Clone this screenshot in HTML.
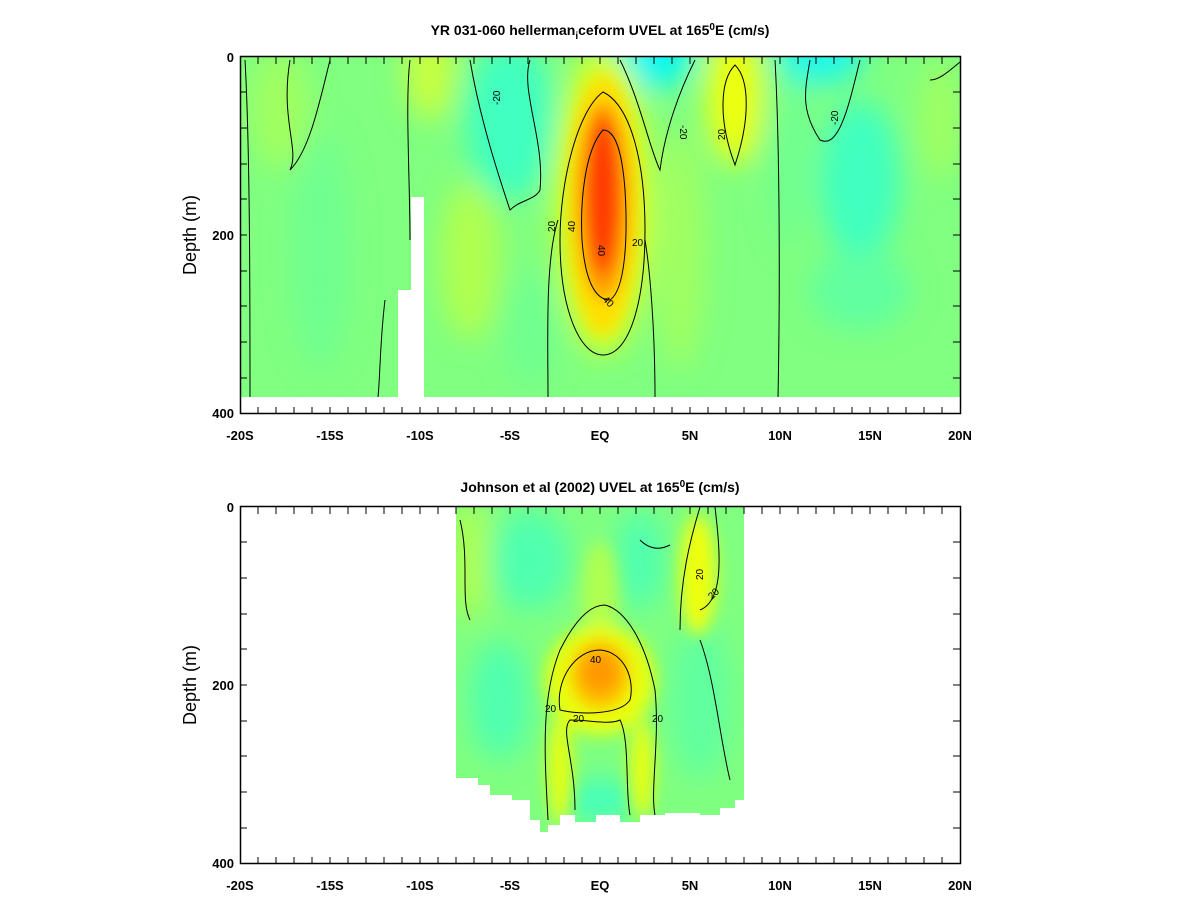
<!DOCTYPE html>
<html><head><meta charset="utf-8"><style>
body{margin:0;background:#fff;}
svg{display:block;font-family:"Liberation Sans",sans-serif;font-weight:bold;}
</style></head><body>
<svg width="1200" height="900" viewBox="0 0 1200 900" xmlns="http://www.w3.org/2000/svg">
<defs>
<filter id="b1" x="-50%" y="-50%" width="200%" height="200%"><feGaussianBlur stdDeviation="14"/></filter>
<filter id="b2" x="-50%" y="-50%" width="200%" height="200%"><feGaussianBlur stdDeviation="8"/></filter>
<clipPath id="c1"><path d="M240,57H960V397H424V240H424V197H411V290H398V397H240Z"/></clipPath>
<clipPath id="c0"><rect x="240" y="57" width="720" height="340"/></clipPath>
<clipPath id="c2"><path d="M456,507H744V800H735V808H720V815H700V813H665V815H640V822H620V815H596V822H575V815H560V825H548V832H540V820H530V800H512V795H490V785H478V778H456Z"/></clipPath>
</defs>

<g clip-path="url(#c1)">
<rect x="240" y="57" width="720" height="340" fill="#80ff80"/>
<g filter="url(#b1)">
<ellipse cx="280" cy="110" rx="30" ry="60" fill="#a0ff60"/>
<ellipse cx="320" cy="250" rx="30" ry="120" fill="#70ff90"/>
<ellipse cx="430" cy="70" rx="25" ry="50" fill="#c8ff40"/>
<ellipse cx="470" cy="260" rx="30" ry="80" fill="#b0ff50"/>
<ellipse cx="510" cy="120" rx="45" ry="80" fill="#40ffc0"/>
<ellipse cx="530" cy="330" rx="25" ry="60" fill="#70ff90"/>
<ellipse cx="650" cy="50" rx="45" ry="40" fill="#10f8f0"/>
<ellipse cx="680" cy="250" rx="25" ry="120" fill="#a0ff60"/>
<ellipse cx="735" cy="95" rx="28" ry="70" fill="#f0ff10"/>
<ellipse cx="790" cy="150" rx="20" ry="100" fill="#70ff90"/>
<ellipse cx="820" cy="50" rx="45" ry="35" fill="#20f8e8"/>
<ellipse cx="860" cy="180" rx="40" ry="80" fill="#40ffc0"/>
<ellipse cx="860" cy="290" rx="50" ry="40" fill="#60ffa0"/>
<ellipse cx="940" cy="120" rx="20" ry="60" fill="#a0ff60"/>
<ellipse cx="603" cy="200" rx="48" ry="155" fill="#d8ff20"/>
</g>
<g filter="url(#b2)">
<ellipse cx="603" cy="205" rx="36" ry="130" fill="#ffe000"/>
<ellipse cx="603" cy="200" rx="26" ry="100" fill="#ff9a00"/>
<ellipse cx="603" cy="195" rx="17" ry="80" fill="#ff3a00"/>
</g>
</g>
<rect x="240" y="397" width="720" height="17" fill="#fff"/>
<g fill="none" stroke="#000" stroke-width="1" clip-path="url(#c0)">
<path d="M603,92 C578,110 560,180 560,240 C560,310 580,355 603,355 C630,355 645,300 645,230 C645,160 630,105 603,92Z"/>
<path d="M603,130 C585,150 580,200 582,240 C585,280 595,300 610,300 C625,290 628,240 625,190 C622,150 615,130 603,130Z"/>
<path d="M548,397 C548,340 545,260 558,220"/>
<path d="M655,397 C655,330 650,270 645,240"/>
<path d="M245,60 C250,150 250,300 250,397"/>
<path d="M290,60 C280,120 300,150 290,170 C310,150 320,100 330,60"/>
<path d="M410,60 C405,100 410,180 410,240"/>
<path d="M385,300 C380,340 380,380 378,397"/>
<path d="M470,60 C480,120 500,180 510,210 C520,200 535,200 540,190 C545,140 520,90 530,60"/>
<path d="M620,60 C640,100 650,150 660,170 C665,130 680,90 695,60"/>
<path d="M735,65 C720,80 718,120 735,165 C750,120 750,80 735,65Z"/>
<path d="M775,60 C780,150 780,300 778,397"/>
<path d="M810,60 C805,90 800,110 820,140 C840,150 850,100 860,60"/>
<path d="M930,80 C940,80 950,70 960,62"/>
</g>
<g font-size="10" font-weight="normal" fill="#000">
<text x="598" y="245" transform="rotate(90 598 245)">40</text>
<text x="632" y="246">20</text>
<text x="555" y="232" transform="rotate(-90 555 232)">20</text>
<text x="575" y="232" transform="rotate(-90 575 232)">40</text>
<text x="602" y="300" transform="rotate(45 602 300)">40</text>
<text x="725" y="140" transform="rotate(-90 725 140)">20</text>
<text x="838" y="125" transform="rotate(-90 838 125)">-20</text>
<text x="500" y="105" transform="rotate(-90 500 105)">-20</text>
<text x="680" y="125" transform="rotate(90 680 125)">-20</text>
</g>
<rect x="240.5" y="56.5" width="720" height="357" fill="none" stroke="#000" stroke-width="1.5"/>
<g stroke="#000" stroke-width="1">
<path d="M258,414v-7M276,414v-7M294,414v-7M312,414v-7M330,414v-7M348,414v-7M366,414v-7M384,414v-7M402,414v-7M420,414v-7M438,414v-7M456,414v-7M474,414v-7M492,414v-7M510,414v-7M528,414v-7M546,414v-7M564,414v-7M582,414v-7M600,414v-7M618,414v-7M636,414v-7M654,414v-7M672,414v-7M690,414v-7M708,414v-7M726,414v-7M744,414v-7M762,414v-7M780,414v-7M798,414v-7M816,414v-7M834,414v-7M852,414v-7M870,414v-7M888,414v-7M906,414v-7M924,414v-7M942,414v-7"/>
<path d="M258,57v7M276,57v7M294,57v7M312,57v7M330,57v7M348,57v7M366,57v7M384,57v7M402,57v7M420,57v7M438,57v7M456,57v7M474,57v7M492,57v7M510,57v7M528,57v7M546,57v7M564,57v7M582,57v7M600,57v7M618,57v7M636,57v7M654,57v7M672,57v7M690,57v7M708,57v7M726,57v7M744,57v7M762,57v7M780,57v7M798,57v7M816,57v7M834,57v7M852,57v7M870,57v7M888,57v7M906,57v7M924,57v7M942,57v7"/>
<path d="M240,92h7M240,128h7M240,164h7M240,199h7M240,235h7M240,271h7M240,306h7M240,342h7M240,378h7M960,92h-7M960,128h-7M960,164h-7M960,199h-7M960,235h-7M960,271h-7M960,306h-7M960,342h-7M960,378h-7"/>
</g>
<g font-size="13" fill="#000">
<text x="600" y="35" text-anchor="middle" font-size="14">YR 031-060 hellerman<tspan font-size="10" dy="4">i</tspan><tspan dy="-4">ceform UVEL at 165</tspan><tspan font-size="10" dy="-5">0</tspan><tspan dy="5">E (cm/s)</tspan></text>
<text x="234" y="62" text-anchor="end">0</text>
<text x="234" y="240" text-anchor="end">200</text>
<text x="234" y="418" text-anchor="end">400</text>
<text x="240" y="440" text-anchor="middle">-20S</text><text x="330" y="440" text-anchor="middle">-15S</text><text x="420" y="440" text-anchor="middle">-10S</text><text x="510" y="440" text-anchor="middle">-5S</text><text x="600" y="440" text-anchor="middle">EQ</text><text x="690" y="440" text-anchor="middle">5N</text><text x="780" y="440" text-anchor="middle">10N</text><text x="870" y="440" text-anchor="middle">15N</text><text x="960" y="440" text-anchor="middle">20N</text>
<text x="196" y="235" text-anchor="middle" font-size="18" font-weight="normal" transform="rotate(-90 196 235)">Depth (m)</text>
</g>

<g clip-path="url(#c2)">
<rect x="456" y="507" width="288" height="330" fill="#80ff80"/>
<g filter="url(#b1)">
<ellipse cx="470" cy="560" rx="20" ry="60" fill="#b0ff50"/>
<ellipse cx="530" cy="560" rx="40" ry="50" fill="#50ffb0"/>
<ellipse cx="500" cy="700" rx="30" ry="60" fill="#50ffb0"/>
<ellipse cx="700" cy="700" rx="30" ry="80" fill="#60ffa0"/>
<ellipse cx="640" cy="560" rx="25" ry="50" fill="#50ffb0"/>
<ellipse cx="600" cy="800" rx="40" ry="20" fill="#40ffc0"/>
</g>
<g filter="url(#b2)">
<ellipse cx="600" cy="600" rx="18" ry="60" fill="#b0ff50"/>
<ellipse cx="698" cy="575" rx="18" ry="60" fill="#f0ff10"/>
<ellipse cx="600" cy="680" rx="55" ry="55" fill="#e8ff10"/>
<ellipse cx="560" cy="770" rx="12" ry="55" fill="#e8ff10"/>
<ellipse cx="642" cy="770" rx="12" ry="50" fill="#e8ff10"/>
<ellipse cx="600" cy="675" rx="30" ry="35" fill="#ffc000"/>
<ellipse cx="600" cy="672" rx="20" ry="22" fill="#ff9800"/>
</g>
</g>
<g fill="none" stroke="#000" stroke-width="1">
<path d="M548,820 C545,760 540,700 560,650 C575,620 590,605 605,605 C625,610 645,640 655,690 C660,740 650,790 655,815"/>
<path d="M560,710 C555,680 575,650 600,650 C625,652 635,680 630,700 C620,715 580,715 560,710Z"/>
<path d="M575,810 C575,760 560,730 570,720 C590,720 610,725 620,720 C630,740 625,790 630,815"/>
<path d="M680,630 C680,580 690,540 700,507"/>
<path d="M715,507 C720,550 725,600 700,610"/>
<path d="M460,520 C470,560 460,600 470,620"/>
<path d="M700,640 C715,680 720,740 730,780"/>
<path d="M640,540 C650,550 660,550 670,545"/>
</g>
<g font-size="10" font-weight="normal" fill="#000">
<text x="590" y="663">40</text>
<text x="545" y="712">20</text>
<text x="573" y="722">20</text>
<text x="652" y="722">20</text>
<text x="712" y="600" transform="rotate(-45 712 600)">20</text>
<text x="703" y="580" transform="rotate(-90 703 580)">20</text>
</g>
<rect x="240.5" y="506.5" width="720" height="357" fill="none" stroke="#000" stroke-width="1.5"/>
<g stroke="#000" stroke-width="1">
<path d="M258,864v-7M276,864v-7M294,864v-7M312,864v-7M330,864v-7M348,864v-7M366,864v-7M384,864v-7M402,864v-7M420,864v-7M438,864v-7M456,864v-7M474,864v-7M492,864v-7M510,864v-7M528,864v-7M546,864v-7M564,864v-7M582,864v-7M600,864v-7M618,864v-7M636,864v-7M654,864v-7M672,864v-7M690,864v-7M708,864v-7M726,864v-7M744,864v-7M762,864v-7M780,864v-7M798,864v-7M816,864v-7M834,864v-7M852,864v-7M870,864v-7M888,864v-7M906,864v-7M924,864v-7M942,864v-7"/>
<path d="M258,507v7M276,507v7M294,507v7M312,507v7M330,507v7M348,507v7M366,507v7M384,507v7M402,507v7M420,507v7M438,507v7M456,507v7M474,507v7M492,507v7M510,507v7M528,507v7M546,507v7M564,507v7M582,507v7M600,507v7M618,507v7M636,507v7M654,507v7M672,507v7M690,507v7M708,507v7M726,507v7M744,507v7M762,507v7M780,507v7M798,507v7M816,507v7M834,507v7M852,507v7M870,507v7M888,507v7M906,507v7M924,507v7M942,507v7"/>
<path d="M240,542h7M240,578h7M240,614h7M240,649h7M240,685h7M240,721h7M240,756h7M240,792h7M240,828h7M960,542h-7M960,578h-7M960,614h-7M960,649h-7M960,685h-7M960,721h-7M960,756h-7M960,792h-7M960,828h-7"/>
</g>
<g font-size="13" fill="#000">
<text x="600" y="492" text-anchor="middle" font-size="14">Johnson et al (2002) UVEL at 165<tspan font-size="10" dy="-5">0</tspan><tspan dy="5">E (cm/s)</tspan></text>
<text x="234" y="512" text-anchor="end">0</text>
<text x="234" y="690" text-anchor="end">200</text>
<text x="234" y="868" text-anchor="end">400</text>
<text x="240" y="890" text-anchor="middle">-20S</text><text x="330" y="890" text-anchor="middle">-15S</text><text x="420" y="890" text-anchor="middle">-10S</text><text x="510" y="890" text-anchor="middle">-5S</text><text x="600" y="890" text-anchor="middle">EQ</text><text x="690" y="890" text-anchor="middle">5N</text><text x="780" y="890" text-anchor="middle">10N</text><text x="870" y="890" text-anchor="middle">15N</text><text x="960" y="890" text-anchor="middle">20N</text>
<text x="196" y="685" text-anchor="middle" font-size="18" font-weight="normal" transform="rotate(-90 196 685)">Depth (m)</text>
</g>
</svg>
</body></html>
